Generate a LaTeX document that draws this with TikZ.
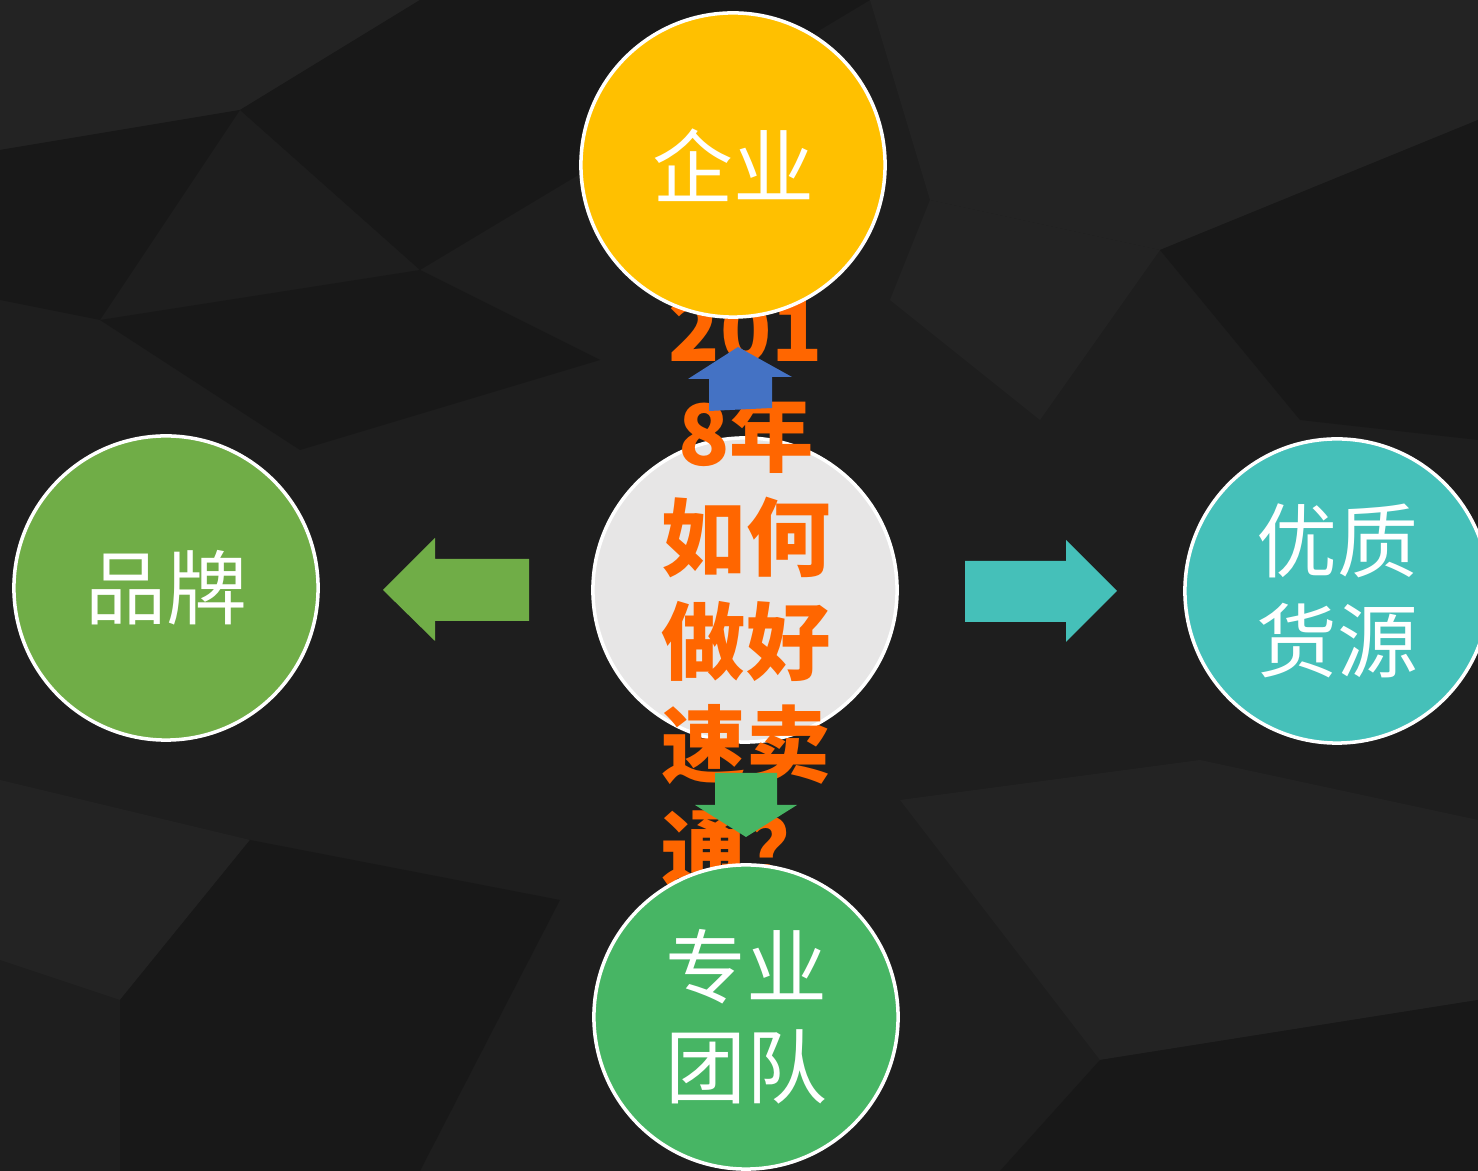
\documentclass[tikz,border=0pt]{standalone}
\usepackage{fontspec}
\usetikzlibrary{positioning}
\newfontfamily\cjk{Noto Sans CJK SC}
\definecolor{fond}{HTML}{1E1E1E}
\definecolor{fondclair}{HTML}{232323}
\definecolor{fondsombre}{HTML}{181818}
\definecolor{jaune}{HTML}{FFC000}
\definecolor{vertclair}{HTML}{70AD47}
\definecolor{turquoise}{HTML}{45C0B9}
\definecolor{gris}{HTML}{E7E6E6}
\definecolor{vertfonce}{HTML}{47B564}
\definecolor{bleu}{HTML}{4472C4}
\definecolor{orangevif}{HTML}{FF6600}
\tikzset{bulle/.style={
    circle,
    minimum size=3.04cm,
    draw=white,
    line width=1pt,
    text=white,
    align=center,
    font=\cjk\fontsize{23}{28.5}\selectfont}}

\begin{document}
\begin{tikzpicture}[x=0.01cm, y=-0.01cm]

\clip (0,0) rectangle (1478,1171);
\useasboundingbox (0,0) rectangle (1478,1171);

% fond
\fill[fond] (0,0) rectangle (1478,1171);
\fill[fondclair] (0,0) -- (420,0) -- (240,110) -- (0,150) -- cycle;
\fill[fondsombre] (0,150) -- (240,110) -- (100,320) -- (0,300) -- cycle;
\fill[fondsombre] (420,0) -- (870,0) -- (420,270) -- (240,110) -- cycle;
\fill[fondclair] (870,0) -- (1478,0) -- (1478,120) -- (1160,250) -- (930,200) -- cycle;
\fill[fondsombre] (100,320) -- (420,270) -- (600,360) -- (300,450) -- cycle;
\fill[fondclair] (930,200) -- (1160,250) -- (1040,420) -- (890,300) -- cycle;
\fill[fondsombre] (1160,250) -- (1478,120) -- (1478,440) -- (1300,420) -- cycle;
\fill[fondclair] (0,780) -- (250,840) -- (120,1000) -- (0,960) -- cycle;
\fill[fondsombre] (250,840) -- (560,900) -- (420,1171) -- (120,1171) -- (120,1000) -- cycle;
\fill[fondclair] (900,800) -- (1200,760) -- (1478,820) -- (1478,1000) -- (1100,1060) -- cycle;
\fill[fondsombre] (1100,1060) -- (1478,1000) -- (1478,1171) -- (1000,1171) -- cycle;

\coordinate (C) at (745,590);
\coordinate (H) at (733,165);
\coordinate (G) at (166,588);
\coordinate (D) at (1337,591);
\coordinate (B) at (746,1017);

\node[bulle, fill=gris] (centre) at (C) {};

\node[bulle, fill=vertclair] (marque) at (G) {品牌};

\node[bulle, fill=turquoise] (source) at (D) {优质\\货源};

% fleches
\fill[vertclair] (383,590) -- (435,538) -- (435,559) -- (529,559)
  -- (529,621) -- (435,621) -- (435,641) -- cycle;
\fill[turquoise] (965,561) -- (1066,561) -- (1066,540) -- (1117,591)
  -- (1066,642) -- (1066,622) -- (965,622) -- cycle;

\node[text=orangevif,
  align=center,
  inner sep=0pt,
  font=\cjk\bfseries\fontsize{24}{29.5}\selectfont] (titre) at (746,594)
  {201\\8年\\如何\\做好\\速卖\\通？};

\node[bulle, fill=jaune] (entreprise) at (H) {企业};

\node[bulle, fill=vertfonce] (equipe) at (B) {专业\\团队};

\fill[bleu] (738,347) -- (792,377) -- (772,377) -- (772,408)
  -- (709,411) -- (709,379) -- (688,379) -- cycle;
\fill[vertfonce] (715,773) -- (777,773) -- (777,805) -- (797,805)
  -- (746,837) -- (695,805) -- (715,805) -- cycle;

\end{tikzpicture}
\end{document}
